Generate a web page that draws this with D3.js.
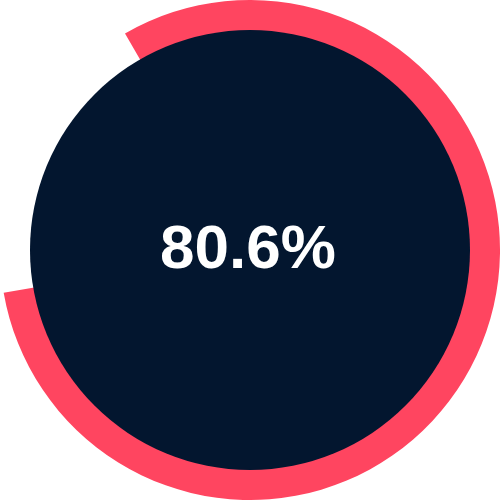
<!DOCTYPE html>
<html>
<head>
<meta charset="utf-8">
<script src="https://cdn.jsdelivr.net/npm/d3@7"></script>
<style>
html,body{margin:0;padding:0;background:#fff;}
svg{display:block;}
</style>
</head>
<body>
<svg id="chart" width="500" height="500"></svg>
<script>
const values = [80.6];
const labels = ["80.6%"];
const startAngleDeg = [-30];

const svg = d3.select("#chart");
const g = svg.append("g").attr("transform", "translate(250,250)");

const angle = d3.scaleLinear().domain([0, 100]).range([0, 2 * Math.PI]);
const start = startAngleDeg[0] * Math.PI / 180;

const arc = d3.arc().innerRadius(219).outerRadius(250);

g.append("path")
  .datum({startAngle: start, endAngle: start + angle(values[0])})
  .attr("d", arc)
  .attr("fill", "#FF4560");

g.append("circle")
  .attr("r", 220)
  .attr("fill", "#03162F");

g.append("text")
  .attr("x", -2)
  .attr("y", 18)
  .attr("text-anchor", "middle")
  .attr("fill", "#ffffff")
  .style("font-family", "'Liberation Sans', Arial, sans-serif")
  .style("font-weight", "bold")
  .style("font-size", "62px")
  .text(labels[0]);
</script>
</body>
</html>
